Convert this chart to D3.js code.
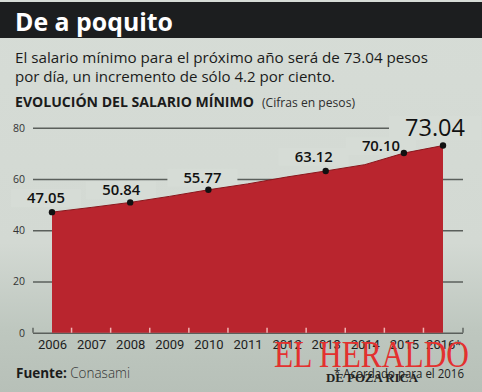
<!DOCTYPE html>
<html><head><meta charset="utf-8">
<script src="https://cdn.jsdelivr.net/npm/d3@7"></script>
<style>html,body{margin:0;padding:0;background:#d6dcd6;}svg{display:block;}</style>
</head><body>
<svg id="chart" width="482" height="392"></svg>
<script>
// ---- data ----
const years = [2006, 2007, 2008, 2009, 2010, 2011, 2012, 2013, 2014, 2015, 2016];
const salario = [47.05, 48.88, 50.84, 53.19, 55.77, 58.06, 60.75, 63.12, 65.58, 70.10, 73.04];
const yearLabels = ["2006", "2007", "2008", "2009", "2010", "2011", "2012", "2013", "2014", "2015", "2016*"];
const yTicks = [0, 20, 40, 60, 80];
const labeledYears = [2006, 2008, 2010, 2013, 2015, 2016];
const labeledValues = ["47.05", "50.84", "55.77", "63.12", "70.10", "73.04"];

const W = 482, H = 392;
const svg = d3.select("#chart");
const defs = svg.append("defs");
const fitW = (sel, w) => sel.attr("textLength", w).attr("lengthAdjust", "spacingAndGlyphs");

// background
const g1 = defs.append("linearGradient").attr("id", "bgGrad").attr("x1", 0).attr("y1", 0).attr("x2", 0).attr("y2", 1);
g1.append("stop").attr("offset", "0").attr("stop-color", "#d6dcd6");
g1.append("stop").attr("offset", "0.62").attr("stop-color", "#d3d9d3");
g1.append("stop").attr("offset", "0.84").attr("stop-color", "#bec7bf");
g1.append("stop").attr("offset", "1").attr("stop-color", "#b7c0b8");
svg.append("rect").attr("width", W).attr("height", H).attr("fill", "url(#bgGrad)");
svg.append("rect").attr("x", 0).attr("y", 2).attr("width", W).attr("height", 36).attr("fill", "#1c1e1f");

// header texts
svg.append("text").attr("x", 15).attr("y", 31).text("De a poquito")
  .attr("font-family", "Open Sans").attr("font-weight", 700).attr("font-size", 25).attr("fill", "#ffffff")
  .call(fitW, 158);
svg.append("text").attr("x", 15).attr("y", 63).text("El salario mínimo para el próximo año será de 73.04 pesos")
  .attr("font-family", "Open Sans").attr("font-size", 15).attr("fill", "#1b1b1b").call(fitW, 413);
svg.append("text").attr("x", 15).attr("y", 82).text("por día, un incremento de sólo 4.2 por ciento.")
  .attr("font-family", "Open Sans").attr("font-size", 15).attr("fill", "#1b1b1b").call(fitW, 320);
svg.append("text").attr("x", 15).attr("y", 107).text("EVOLUCIÓN DEL SALARIO MÍNIMO")
  .attr("font-family", "Open Sans").attr("font-weight", 700).attr("font-size", 14).attr("fill", "#1b1b1b").call(fitW, 239);
svg.append("text").attr("x", 262).attr("y", 107).text("(Cifras en pesos)")
  .attr("font-family", "Open Sans").attr("font-size", 12.5).attr("fill", "#2e2e2e").call(fitW, 93);

// scales
const x = d3.scaleLinear().domain([2006, 2016]).range([52, 443]);
const y = d3.scaleLinear().domain([0, 80]).range([332.7, 127.7]);
const step = x(2007) - x(2006);
const left = 33, right = 463;

// gridlines via axis
const yAxis = svg.append("g").attr("transform", `translate(${left},0)`)
  .call(d3.axisLeft(y).tickValues(yTicks).tickSize(-(right - left)).tickPadding(8));
yAxis.select(".domain").remove();
yAxis.selectAll(".tick line").attr("stroke", "#5a5f5b").attr("stroke-width", 1.6);
yAxis.selectAll(".tick text").attr("font-family", "Open Sans").attr("font-size", 10.5).attr("fill", "#333");
// corner ticks
[left, right].forEach(px => svg.append("line").attr("x1", px).attr("x2", px)
  .attr("y1", y(0) - 5).attr("y2", y(0)).attr("stroke", "#5a5f5b").attr("stroke-width", 1.4));

const data = years.map((yr, i) => ({year: yr, value: salario[i]}));
const labelOffsets = {2006: [-6, -9], 2008: [-9, -7], 2010: [-6, -7], 2013: [-12, -9], 2015: [-23, -2], 2016: [-8, -9.5]};
const labels = labeledYears.map((yr, i) => ({year: yr, text: labeledValues[i], value: salario[years.indexOf(yr)]}));

const area = d3.area().x(d => x(d.year)).y0(y(0)).y1(d => y(d.value));
const line = d3.line().x(d => x(d.year)).y(d => y(d.value));

// background boxes behind labels (break gridlines)
labels.forEach(l => {
  const big = l.year === 2016;
  const w = big ? 60 : 38, h = big ? 18 : 12;
  const cx = x(l.year) + labelOffsets[l.year][0];
  const by = y(l.value) + labelOffsets[l.year][1];
  svg.append("rect").attr("x", cx - w / 2 - 16).attr("y", by - h - 2).attr("width", w + 32).attr("height", h + 6)
    .attr("fill", "#d6dcd6");
});

// area
svg.append("path").datum(data).attr("d", area).attr("fill", "#b9252e");
svg.append("path").datum(data).attr("d", line).attr("fill", "none").attr("stroke", "#8a161c").attr("stroke-width", 1);

// pink ticks inside area at year boundaries
svg.append("g").selectAll("line").data(years.slice(0, -1)).join("line")
  .attr("x1", d => x(d) + step / 2).attr("x2", d => x(d) + step / 2)
  .attr("y1", y(0) - 5).attr("y2", y(0)).attr("stroke", "#f1b3b3").attr("stroke-width", 1.5);

// x axis labels
const xAxis = svg.append("g").attr("transform", `translate(0,${y(0)})`)
  .call(d3.axisBottom(x).tickValues(years).tickSize(0).tickPadding(5)
    .tickFormat((d, i) => yearLabels[i]));
xAxis.select(".domain").remove();
xAxis.selectAll(".tick text").attr("font-family", "Roboto").attr("font-size", 13).attr("fill", "#1e1e1e")
  .attr("dy", "0.85em");

// dots
svg.append("g").selectAll("circle").data(labels).join("circle")
  .attr("cx", d => x(d.year)).attr("cy", d => y(d.value)).attr("r", 3.2).attr("fill", "#111");

// value labels
svg.append("g").selectAll("text").data(labels).join("text")
  .attr("x", d => x(d.year) + labelOffsets[d.year][0])
  .attr("y", d => y(d.value) + labelOffsets[d.year][1])
  .attr("text-anchor", "middle")
  .attr("font-family", "Open Sans")
  .attr("font-weight", d => d.year === 2016 ? 500 : 600)
  .attr("font-size", d => d.year === 2016 ? 23 : 14.5)
  .attr("fill", "#111")
  .text(d => d.text)
  .each(function(d) { d3.select(this).call(fitW, d.year === 2016 ? 60 : 38); });

// footer
svg.append("text").attr("x", 16).attr("y", 378).attr("font-family", "Open Sans").attr("font-size", 14)
  .attr("fill", "#1b1b1b")
  .call(t => { t.append("tspan").attr("font-weight", 700).text("Fuente: ");
               t.append("tspan").attr("font-weight", 300).attr("fill", "#333").text("Conasami"); })
  .call(fitW, 114);
svg.append("text").attr("x", 334).attr("y", 378).text("* Acordado para el 2016")
  .attr("font-family", "Open Sans").attr("font-size", 13).attr("fill", "#222").call(fitW, 130);

// watermark (condensed by vertical stretch so the natural width stays inside the frame)
svg.append("text").attr("transform", "translate(274,367) scale(1,1.2)").text("EL HERALDO")
  .attr("font-family", "Liberation Serif").attr("font-size", 31).attr("fill", "#e3312f").call(fitW, 195);
svg.append("text").attr("x", 326).attr("y", 382).text("DE POZA RICA")
  .attr("font-family", "Liberation Serif").attr("font-weight", 700).attr("font-size", 13).attr("fill", "#222").call(fitW, 92);
</script>
</body></html>
